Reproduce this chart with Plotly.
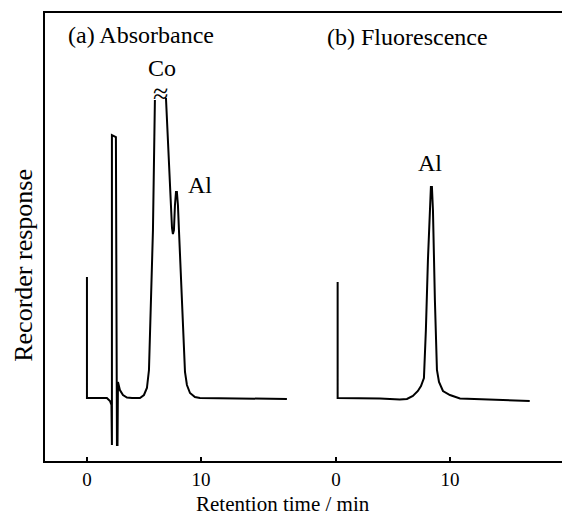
import plotly.graph_objects as go

# Panel (a): absorbance chromatogram (time in min, response in arbitrary units)
abs_time = [0.0, 0.0, 1.75, 2.02, 2.15, 2.19, 2.19, 2.54, 2.63, 2.68, 2.72, 2.89, 3.16, 3.51, 3.95,
            4.65, 5.0, 5.26, 5.44, 5.61, 5.79, 5.96, None,
            6.93, 7.19, 7.37, 7.46, 7.54, 7.63, 7.72, 7.81, 7.89, 7.98, 8.07, 8.25, 8.42, 8.6,
            8.77, 9.04, 9.47, 9.91, 17.54]
abs_resp = [121, 0, 0, -3, -7, -47, 263, 261, -47, -47, 16, 8, 3, 0.5, 0,
            0, 3, 10, 28, 98, 168, 298, None,
            300, 228, 183, 170, 164, 168, 193, 206, 206, 193, 168, 118, 68, 26,
            13, 5, 1, 0, -1]

# Panel (b): fluorescence chromatogram
flu_time = [0.15, 0.15, 3.86, 5.6, 6.23, 6.75, 7.19, 7.46, 7.72, 7.89, 8.07, 8.25, 8.33, 8.42,
            8.51, 8.68, 8.86, 9.04, 9.39, 10.0, 10.88, 17.0]
flu_resp = [116, 0, -0.5, -1.5, -1, 2, 7, 12, 20, 68, 138, 198, 211, 211,
            188, 98, 28, 16, 7, 3, -0.5, -3]

panel_offset = 21.84  # horizontal offset of panel (b) on the shared axis
tick_vals = [0, 10, 0 + panel_offset, 10 + panel_offset]
tick_text = ["0", "10", "0", "10"]

FONT = "Liberation Serif, Times New Roman, serif"

fig = go.Figure()
fig.add_trace(go.Scatter(x=abs_time, y=abs_resp, mode="lines",
                         line=dict(color="black", width=2), connectgaps=False,
                         showlegend=False, hoverinfo="skip"))
fig.add_trace(go.Scatter(x=[t + panel_offset for t in flu_time], y=flu_resp, mode="lines",
                         line=dict(color="black", width=2),
                         showlegend=False, hoverinfo="skip"))

annotations = [
    dict(x=-1.85, y=363, text="(a) Absorbance", xanchor="left", showarrow=False, font=dict(size=24)),
    dict(x=20.85, y=361, text="(b) Fluorescence", xanchor="left", showarrow=False, font=dict(size=24)),
    dict(x=6.58, y=330, text="Co", showarrow=False, font=dict(size=24)),
    dict(x=6.45, y=305, text="≈", showarrow=False, font=dict(size=28)),
    dict(x=9.95, y=213, text="Al", showarrow=False, font=dict(size=24)),
    dict(x=8.25 + panel_offset, y=235, text="Al", showarrow=False, font=dict(size=24)),
    dict(x=-0.043, y=0.4375, xref="paper", yref="paper", text="Recorder response", textangle=-90,
         xanchor="center", yanchor="middle", showarrow=False, font=dict(size=26)),
    dict(x=0.46, y=-0.0949, xref="paper", yref="paper", text="Retention time / min",
         xanchor="center", yanchor="middle", showarrow=False, font=dict(size=21)),
]

fig.update_layout(
    width=562, height=517,
    margin=dict(l=45, r=0, t=13, b=56),
    paper_bgcolor="white", plot_bgcolor="white",
    font=dict(family=FONT, color="black", size=19),
    annotations=annotations,
    xaxis=dict(range=[-3.68, 41.67], tickvals=tick_vals, ticktext=tick_text,
               ticks="inside", ticklen=4, tickwidth=1.5, tickcolor="black",
               showline=True, linecolor="black", linewidth=2, mirror=True,
               showgrid=False, zeroline=False,
               tickfont=dict(size=19)),
    yaxis=dict(range=[-63, 385], showticklabels=False, ticks="",
               showline=True, linecolor="black", linewidth=2, mirror=False,
               showgrid=False, zeroline=False),
)

fig.write_html("out.html")
